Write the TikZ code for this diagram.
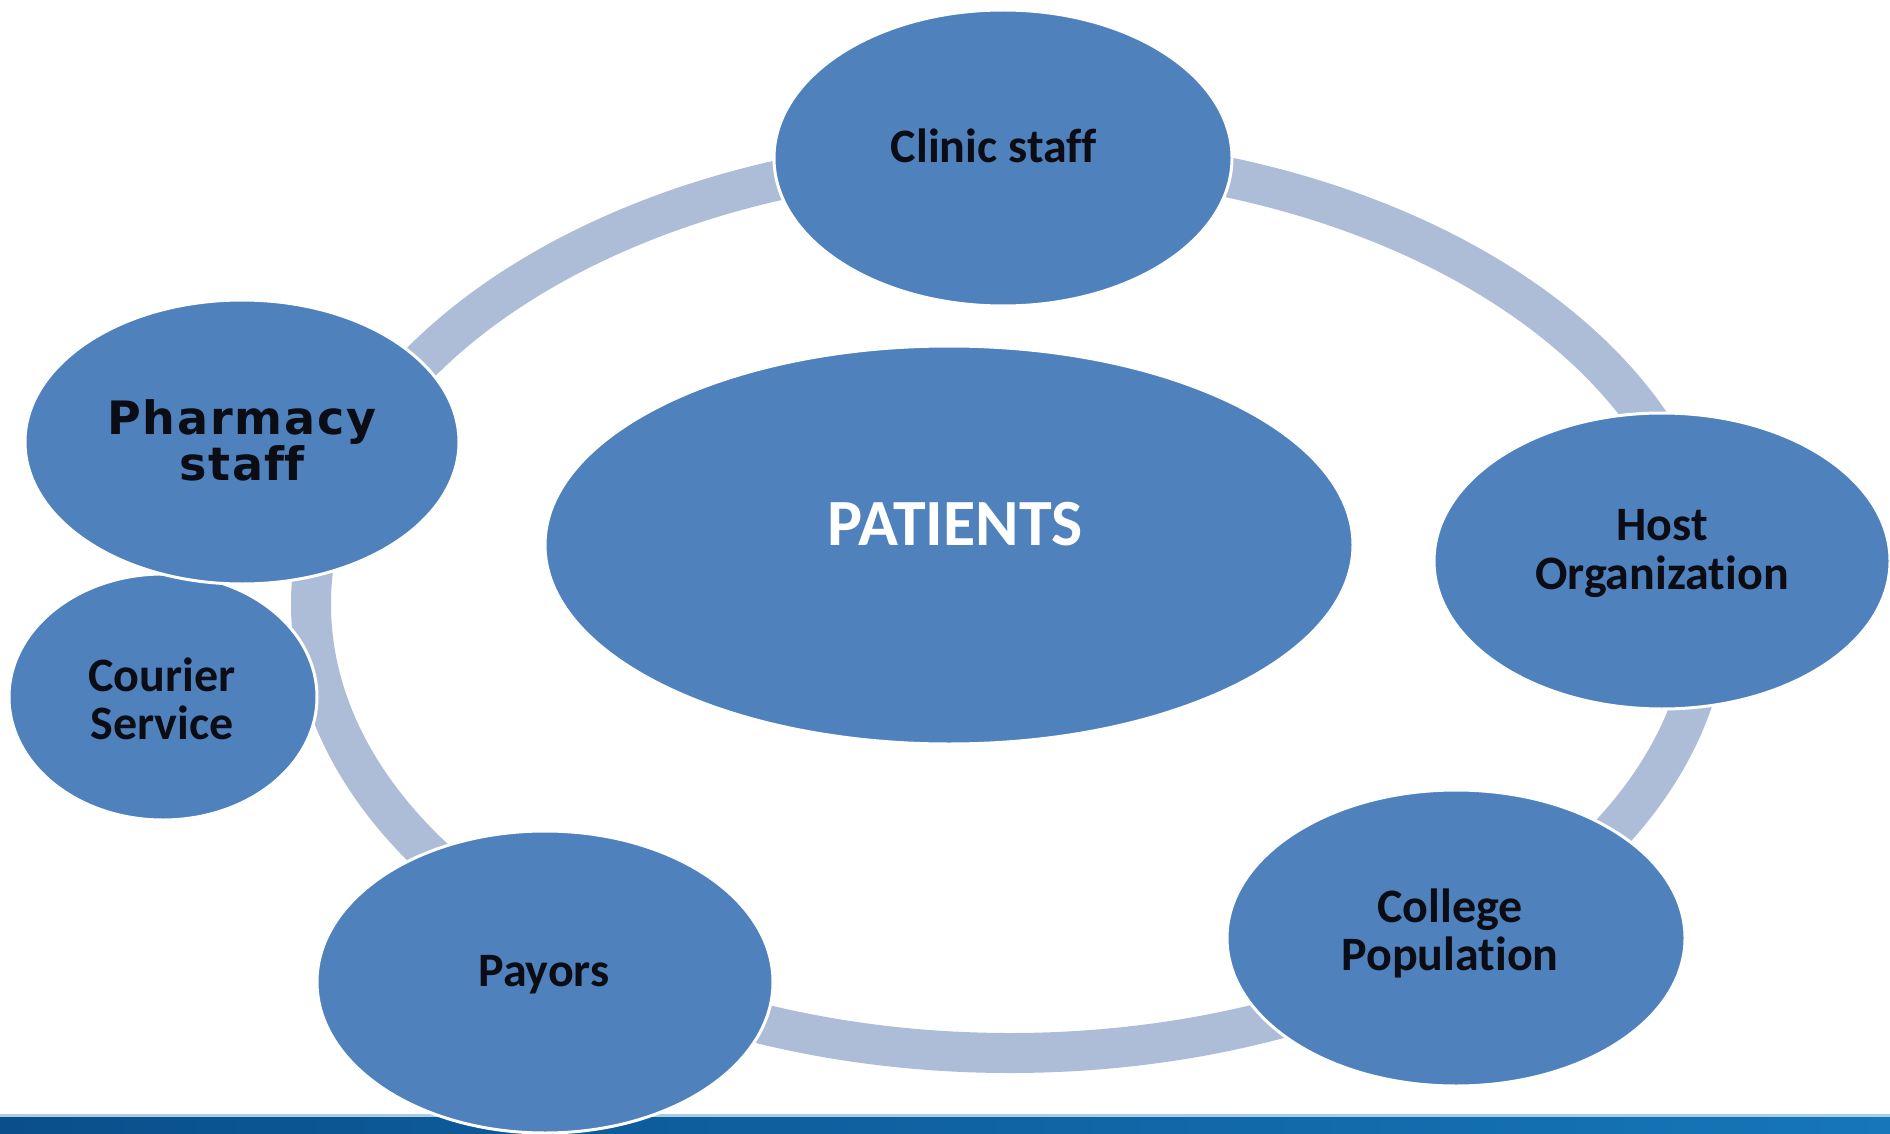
\documentclass[tikz,border=0pt]{standalone}
\usepackage{fontspec}
\setmainfont[RawFeature={-liga;-clig;-calt;-dlig}]{Carlito}
\newfontfamily\widebold[LetterSpace=4, RawFeature={-liga;-clig;-calt;-dlig}]{DejaVu Sans}
\usetikzlibrary{shapes.geometric}

% keep letter pairs apart (no ligature glyphs)
\newcommand{\nolig}{\kern0pt{}}

\definecolor{blobblue}{HTML}{4F81BD}
\definecolor{ringblue}{HTML}{AEBDD7}
\definecolor{bardark}{HTML}{0A4F8C}
\definecolor{barlight}{HTML}{1676B8}
\definecolor{barline}{HTML}{A9CDE4}
\definecolor{ink}{HTML}{0B0C14}

\tikzset{
  blob/.style={ellipse, fill=blobblue, draw=white, line width=3pt, inner sep=0pt},
  lbl/.style={font=\bfseries\fontsize{48}{48}\selectfont, text=ink, align=center, inner sep=0pt},
  biglbl/.style={font=\bfseries\fontsize{66}{66}\selectfont, text=white, inner sep=0pt},
  ringline/.style={draw=ringblue, line width=40pt},
}

\begin{document}
\begin{tikzpicture}[x=1pt, y=-1pt]
  \useasboundingbox (0,0) rectangle (1890,1134);
  \begin{scope}
  \clip (0,0) rectangle (1890,1134);

  % footer band
  \fill[left color=bardark, right color=barlight, shading=axis] (0,1115) rectangle (1890,1134);
  \draw[barline, line width=3pt] (0,1115.5) -- (1890,1115.5);

  % cycle ring
  \coordinate (ringc) at (1010,604);
  \draw[ringline] (ringc) ellipse [x radius=699pt, y radius=449pt];

  % centre
  \node[blob, minimum width=808pt, minimum height=398pt] (patients) at (949,545) {};
  \node[biglbl] (patients-t) at (955,524) {PATIENTS};

  % stakeholders
  \node[blob, minimum width=458pt, minimum height=296pt] (clinic) at (1003,158) {};
  \node[lbl] (clinic-t) at (994,146) {Clinic staf\nolig f};

  \node[blob, minimum width=456pt, minimum height=296pt] (host) at (1662,561) {};
  \node[lbl] (host-t) at (1662,554) {Host\\[1pt]Organizat\nolig ion};

  \node[blob, minimum width=458pt, minimum height=296pt] (college) at (1456,938) {};
  \node[lbl] (college-t) at (1450,933) {College\\Populat\nolig ion};

  \node[blob, minimum width=456pt, minimum height=302pt] (payors) at (545,982) {};
  \node[lbl] (payors-t) at (544,975) {Payors};

  \node[blob, minimum width=308pt, minimum height=246pt] (courier) at (163,697) {};
  \node[lbl] (courier-t) at (162,699) {Courier\\Service};

  \node[blob, minimum width=434pt, minimum height=284pt] (pharmacy) at (242,442) {};
  \node[font=\widebold\bfseries\fontsize{46}{46}\selectfont, text=ink, align=center, inner sep=0pt]
    (pharmacy-t) at (242,440) {Pharmacy\\staf\nolig f};
  \end{scope}
\end{tikzpicture}
\end{document}
